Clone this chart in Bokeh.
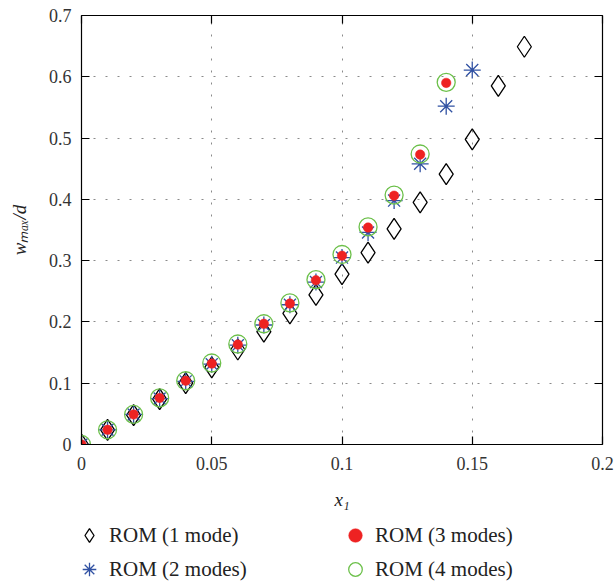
from bokeh.plotting import figure
from bokeh.layouts import column
from bokeh.models import (LinearAxis, Range1d, FixedTicker, Legend, LegendItem,
                          NumeralTickFormatter)
from bokeh.embed import file_html
from bokeh.resources import INLINE

# ---- data ----
x_1mode = [0.00, 0.01, 0.02, 0.03, 0.04, 0.05, 0.06, 0.07, 0.08, 0.09,
           0.10, 0.11, 0.12, 0.13, 0.14, 0.15, 0.16, 0.17]
w_1mode = [0.000, 0.024, 0.048, 0.074, 0.100, 0.126, 0.155, 0.184, 0.214, 0.244,
           0.278, 0.313, 0.352, 0.395, 0.441, 0.498, 0.585, 0.649]

x_2modes = [0.00, 0.01, 0.02, 0.03, 0.04, 0.05, 0.06, 0.07, 0.08, 0.09,
            0.10, 0.11, 0.12, 0.13, 0.14, 0.15]
w_2modes = [0.000, 0.024, 0.049, 0.075, 0.103, 0.131, 0.162, 0.195, 0.228, 0.265,
            0.305, 0.346, 0.398, 0.458, 0.552, 0.611]

x_3modes = [0.00, 0.01, 0.02, 0.03, 0.04, 0.05, 0.06, 0.07, 0.08, 0.09,
            0.10, 0.11, 0.12, 0.13, 0.14]
w_3modes = [0.000, 0.024, 0.049, 0.076, 0.104, 0.132, 0.163, 0.197, 0.230, 0.268,
            0.308, 0.354, 0.406, 0.473, 0.590]

x_4modes = [0.00, 0.01, 0.02, 0.03, 0.04, 0.05, 0.06, 0.07, 0.08, 0.09,
            0.10, 0.11, 0.12, 0.13, 0.14]
w_4modes = [0.000, 0.024, 0.049, 0.076, 0.104, 0.133, 0.164, 0.197, 0.231, 0.269,
            0.310, 0.355, 0.407, 0.474, 0.591]

series_labels = ["ROM (1 mode)", "ROM (2 modes)", "ROM (3 modes)", "ROM (4 modes)"]
x_ticks = [0, 0.05, 0.1, 0.15, 0.2]
y_ticks = [0, 0.1, 0.2, 0.3, 0.4, 0.5, 0.6, 0.7]
x_title = "x\u2081"
y_title = "w\u2098\u2090\u2093/d"

SERIF = "Liberation Serif"

# series styles
styles = [
    dict(marker="diamond", size=21, fill_color=None, line_color="black", line_width=1.3),
    dict(marker="asterisk", size=17, line_color="#3152a3", line_width=1.3),
    dict(marker="circle", size=9.5, fill_color="#ee2222", line_color="#ee2222", line_width=0.5),
    dict(marker="circle", size=18, fill_color=None, line_color="#6cc04a", line_width=1.3),
]

p = figure(frame_width=521, frame_height=429,
           x_range=Range1d(0, 0.2), y_range=Range1d(0, 0.7),
           output_backend="svg", toolbar_location=None,
           min_border_left=81, min_border_right=13, min_border_top=15,
           min_border_bottom=78)
p.outline_line_color = None
p.background_fill_color = "white"
p.border_fill_color = "white"

xt = FixedTicker(ticks=x_ticks)
yt = FixedTicker(ticks=y_ticks)


def style_axis(ax):
    ax.axis_line_color = "black"
    ax.axis_line_width = 1.2
    ax.major_tick_in = 8
    ax.major_tick_out = 0
    ax.major_tick_line_color = "black"
    ax.major_tick_line_width = 1.2
    ax.minor_tick_in = 8
    ax.minor_tick_out = 0
    ax.minor_tick_line_color = "black"
    ax.minor_tick_line_width = 1.2
    ax.major_label_text_font = SERIF
    ax.major_label_text_font_size = "18px"
    ax.major_label_text_color = "#333333"
    ax.axis_label_text_font = SERIF
    ax.axis_label_text_font_size = "19px"
    ax.axis_label_text_font_style = "italic"
    ax.axis_label_text_color = "#222222"


xa = p.xaxis[0]
xa.ticker = xt
xa.formatter = NumeralTickFormatter(format="0.[00]")
style_axis(xa)
xa.minor_tick_line_color = None
xa.major_label_standoff = 12
xa.axis_label = x_title
xa.axis_label_standoff = 16

ya = p.yaxis[0]
ya.ticker = yt
ya.formatter = NumeralTickFormatter(format="0.[0]")
style_axis(ya)
ya.minor_tick_line_color = None
ya.major_label_standoff = 10
ya.axis_label = y_title
ya.axis_label_standoff = 16

# top / right frame sides: ticks only (as minor ticks, so no labels)
top = LinearAxis(ticker=FixedTicker(ticks=[], minor_ticks=x_ticks))
style_axis(top)
p.add_layout(top, "above")
right = LinearAxis(ticker=FixedTicker(ticks=[], minor_ticks=y_ticks))
style_axis(right)
p.add_layout(right, "right")

for g, t in ((p.xgrid[0], xt), (p.ygrid[0], yt)):
    g.ticker = t
    g.grid_line_color = "#8a8a8a"
    g.grid_line_dash = "2 10"
    g.grid_line_width = 1

series = [(x_1mode, w_1mode), (x_2modes, w_2modes), (x_3modes, w_3modes), (x_4modes, w_4modes)]
for (xs, ws), st in zip(series, styles):
    p.scatter(xs, ws, **st)

# ---- legend strip below the axes ----
# the same series are drawn again here, outside this strip's visible range,
# only so that the legend has renderers to take its glyphs from
q = figure(frame_width=615, frame_height=61, x_range=Range1d(1, 2), y_range=Range1d(1, 2),
           output_backend="svg", toolbar_location=None,
           x_axis_location=None, y_axis_location=None,
           min_border=0, min_border_left=0, min_border_right=0,
           min_border_top=0, min_border_bottom=0)
q.grid.visible = False
q.outline_line_color = None
q.background_fill_color = "white"
q.border_fill_color = "white"

items = []
for lab, (xs, ws), st in zip(series_labels, series, styles):
    r = q.scatter(xs, ws, **st)
    items.append(LegendItem(label=lab, renderers=[r]))

legend = Legend(items=items, location=(72, -3), orientation="vertical", nrows=2,
                border_line_color=None, background_fill_alpha=0,
                padding=0, margin=0, spacing=-7,
                glyph_width=34, glyph_height=34, label_height=34,
                label_standoff=3, label_width=229,
                label_text_font=SERIF, label_text_font_size="21px",
                label_text_color="#222222")
q.add_layout(legend)

layout = column(p, q, spacing=0)
open("out.html", "w").write(file_html(layout, INLINE))
